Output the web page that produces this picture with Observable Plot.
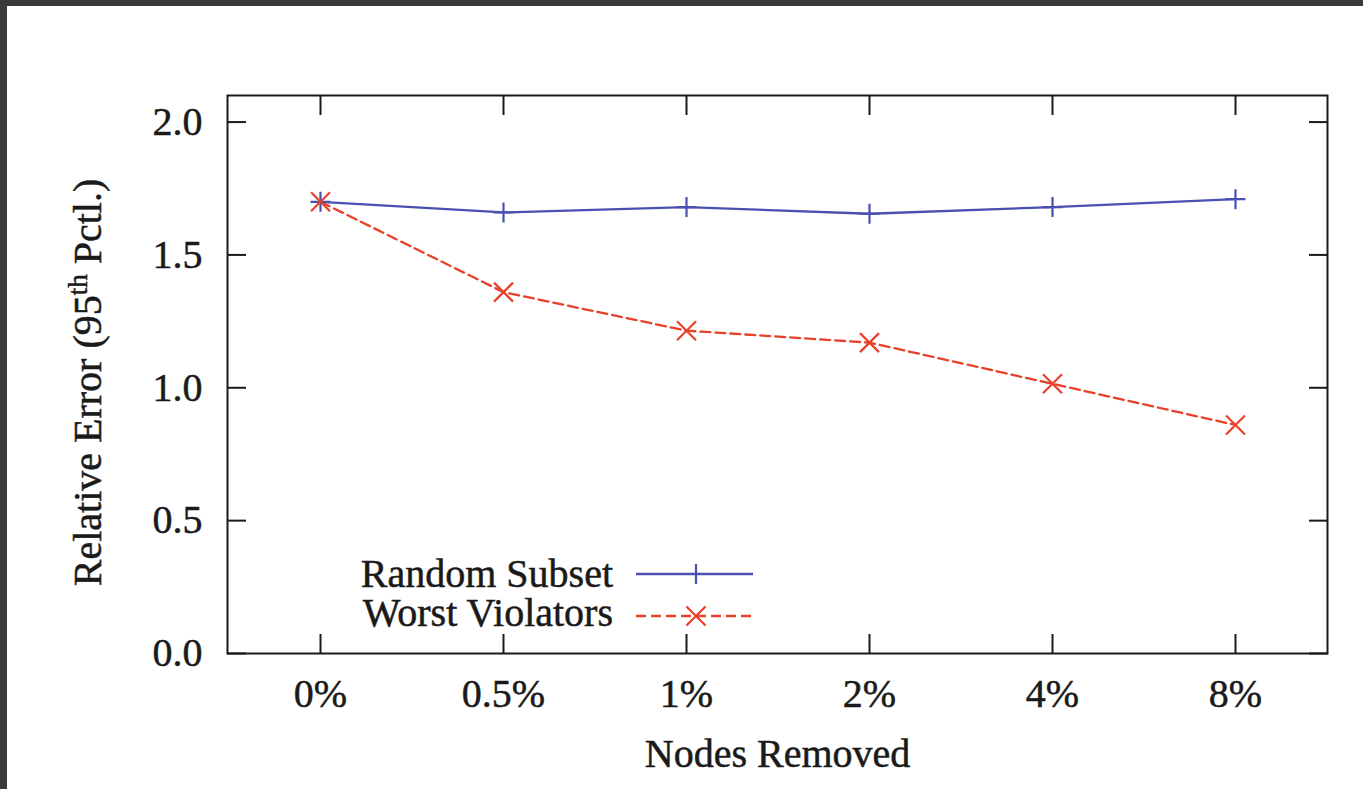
<!DOCTYPE html>
<html><head><meta charset="utf-8">
<script src="https://cdn.jsdelivr.net/npm/d3@7"></script>
<script src="https://cdn.jsdelivr.net/npm/@observablehq/plot@0.6"></script>
<style>
html,body{margin:0;padding:0;background:#3a3a3a;width:1363px;height:789px;overflow:hidden;}
#page{position:absolute;left:7px;top:6px;width:1356px;height:783px;background:#fff;}
#chart,#legend{position:absolute;left:0;top:0;}
#page text{stroke:#1a1a1a;stroke-width:0.5px;}
</style></head><body><div id="page"><div id="chart"></div><svg id="legend" width="1356" height="783"></svg></div>
<script>
const categories = ["0%", "0.5%", "1%", "2%", "4%", "8%"];
const randomSubset = [1.70, 1.66, 1.68, 1.655, 1.68, 1.71];
const worstViolators = [1.70, 1.36, 1.215, 1.17, 1.015, 0.86];
const yTicks = [0, 0.5, 1.0, 1.5, 2.0];
const seriesNames = ["Random Subset", "Worst Violators"];
const seriesColors = ["#4a50b0", "#e8402a"];
const xLabel = "Nodes Removed";
const yLabel = "Relative Error (95th Pctl.)";

const rows = [];
categories.forEach((c, i) => {
  rows.push({x: c, y: randomSubset[i], s: seriesNames[0]});
});
categories.forEach((c, i) => {
  rows.push({x: c, y: worstViolators[i], s: seriesNames[1]});
});
const rs = rows.filter(d => d.s === seriesNames[0]);
const wv = rows.filter(d => d.s === seriesNames[1]);

const plusSym = {draw(ctx) { const r = 10; ctx.moveTo(-r, 0); ctx.lineTo(r, 0); ctx.moveTo(0, -r); ctx.lineTo(0, r); }};
const timesSym = {draw(ctx) { const r = 9.5; ctx.moveTo(-r, -r); ctx.lineTo(r, r); ctx.moveTo(-r, r); ctx.lineTo(r, -r); }};

const font = "'Liberation Serif', 'Times New Roman', serif";
const dash = "10,5";
const chart = Plot.plot({
  width: 1356, height: 783,
  marginLeft: 220, marginRight: 36, marginTop: 89, marginBottom: 136,
  style: {fontFamily: font, fontSize: "40px", color: "#1a1a1a", background: "transparent"},
  x: {type: "point", domain: categories, padding: 0.5},
  y: {domain: [0, 2.1]},
  marks: [
    Plot.axisX({anchor: "bottom", tickSize: -19, tickPadding: 44, label: null, strokeWidth: 2}),
    Plot.axisX({anchor: "top", tickSize: -19, tickFormat: () => "", label: null, strokeWidth: 2}),
    Plot.axisY({anchor: "left", ticks: yTicks, tickSize: -19, tickPadding: 44, tickFormat: d3.format(".1f"), label: null, strokeWidth: 2}),
    Plot.axisY({anchor: "right", ticks: yTicks, tickSize: -19, tickFormat: () => "", label: null, strokeWidth: 2}),
    Plot.frame({stroke: "#1a1a1a", strokeWidth: 2}),
    Plot.line(rs, {x: "x", y: "y", stroke: seriesColors[0], strokeWidth: 2.3}),
    Plot.line(wv, {x: "x", y: "y", stroke: seriesColors[1], strokeWidth: 2.3, strokeDasharray: dash}),
    Plot.dot(rs, {x: "x", y: "y", symbol: plusSym, stroke: seriesColors[0], fill: "none", strokeWidth: 2.2}),
    Plot.dot(wv, {x: "x", y: "y", symbol: timesSym, stroke: seriesColors[1], fill: "none", strokeWidth: 2.2}),
    Plot.text([xLabel], {frameAnchor: "bottom", dy: 101, lineAnchor: "middle", textAnchor: "middle", text: d => d, fill: "#1a1a1a"}),
    Plot.text([yLabel], {frameAnchor: "left", dx: -139, dy: 8, rotate: -90, lineAnchor: "middle", textAnchor: "middle", text: d => d, fill: "#1a1a1a"})
  ]
});
document.getElementById("chart").appendChild(chart);

// superscript for the y label
d3.select(chart).selectAll("text").filter(function() { return this.textContent === yLabel; }).each(function() {
  const t = d3.select(this);
  t.text(null);
  t.append("tspan").text("Relative Error (95");
  t.append("tspan").attr("font-size", "27px").attr("dy", "-14").text("th");
  t.append("tspan").attr("dy", "14").text(" Pctl.)");
});

// legend
const lg = d3.select("#legend").style("font-family", font).style("font-size", "40px");
const legendRows = [
  {name: seriesNames[0], color: seriesColors[0], dash: null, sym: plusSym, ty: 581, ly: 568},
  {name: seriesNames[1], color: seriesColors[1], dash: dash, sym: timesSym, ty: 620, ly: 610}
];
legendRows.forEach(r => {
  lg.append("text").attr("x", 606).attr("y", r.ty).attr("text-anchor", "end").attr("fill", "#1a1a1a").text(r.name);
  lg.append("line").attr("x1", 629).attr("x2", 746).attr("y1", r.ly).attr("y2", r.ly)
    .attr("stroke", r.color).attr("stroke-width", 2.3).attr("stroke-dasharray", r.dash);
  lg.append("path").attr("transform", `translate(689,${r.ly})`).attr("d", d3.symbol(r.sym)())
    .attr("stroke", r.color).attr("stroke-width", 2.2).attr("fill", "none");
});
</script></body></html>
